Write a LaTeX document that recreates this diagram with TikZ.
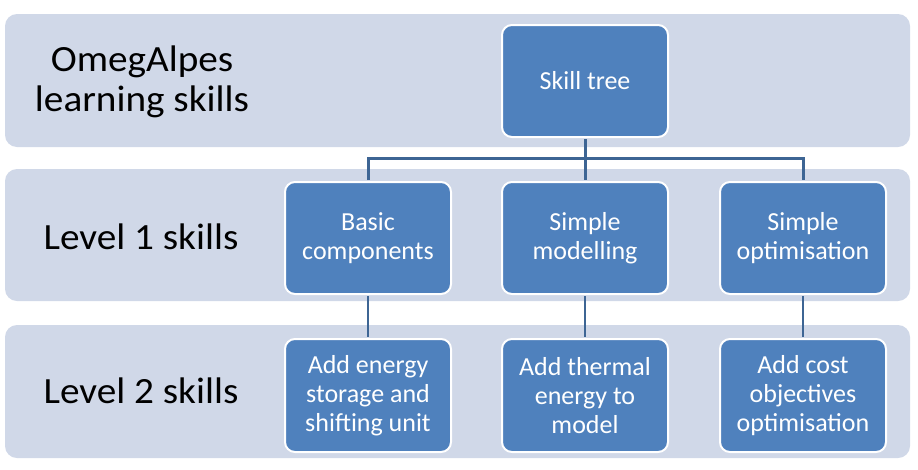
\documentclass[tikz,border=0pt]{standalone}
\usepackage{fontspec}
\setmainfont{Carlito}
\newfontfamily\labelfont[FakeStretch=1.06]{Carlito}
\definecolor{bandc}{HTML}{D0D8E8}
\definecolor{nodeblue}{HTML}{4F81BD}
\definecolor{linkc}{HTML}{3D6594}
\tikzset{
  bandbox/.style={fill=bandc, draw=none, rounded corners=12pt},
  skillbox/.style={rectangle, rounded corners=10pt, fill=nodeblue, draw=white, line width=2pt,
    text=white, font=\fontsize{26}{29}\selectfont, align=center,
    minimum width=166pt, minimum height=112pt, inner sep=2pt},
  bandlabel/.style={font=\labelfont\fontsize{37}{40}\selectfont, align=center, text=black},
  link/.style={draw=linkc, line width=3pt, shorten <=1pt, shorten >=1pt},
  linkthin/.style={draw=linkc, line width=2.3pt, shorten <=1pt, shorten >=1pt}
}
\begin{document}
\begin{tikzpicture}[x=1pt,y=-1pt]
\useasboundingbox (0,0) rectangle (918,469);
\fill[white] (0,0) rectangle (918,469);
% bands
\path[bandbox] (5,14) rectangle (910,147);
\path[bandbox] (5,169) rectangle (910,301);
\path[bandbox] (5,325) rectangle (910,458);
% band labels
\node[bandlabel] (lab0) at (142,82) {OmegAlpes\\learning skills};
\node[bandlabel] (lab1) at (141,237) {Level 1 skills};
\node[bandlabel] (lab2) at (141,391) {Level 2 skills};
\coordinate (bus) at (585,158);
\node[skillbox] (tree) at (585,81) {Skill tree};
\node[skillbox] (l1a) at (368,238) {Basic\\components};
\node[skillbox] (l1b) at (585,238) {Simple\\modelling};
\node[skillbox] (l1c) at (803,238) {Simple\\optimisation};
\node[skillbox, minimum height=113pt] (l2a) at (368,395.5) {Add energy\\storage and\\shifting unit};
\node[skillbox, minimum height=113pt] (l2b) at (585,395.5) {Add thermal\\energy to\\model};
\node[skillbox, minimum height=113pt] (l2c) at (803,395.5) {Add cost\\objectives\\optimisation};
\draw[link] (tree.south) -- (l1b.north);
\draw[link] (l1a.north) |- (bus) -| (l1c.north);
\draw[linkthin] (l1a.south) -- (l2a.north);
\draw[linkthin] (l1b.south) -- (l2b.north);
\draw[linkthin] (l1c.south) -- (l2c.north);
\end{tikzpicture}
\end{document}
